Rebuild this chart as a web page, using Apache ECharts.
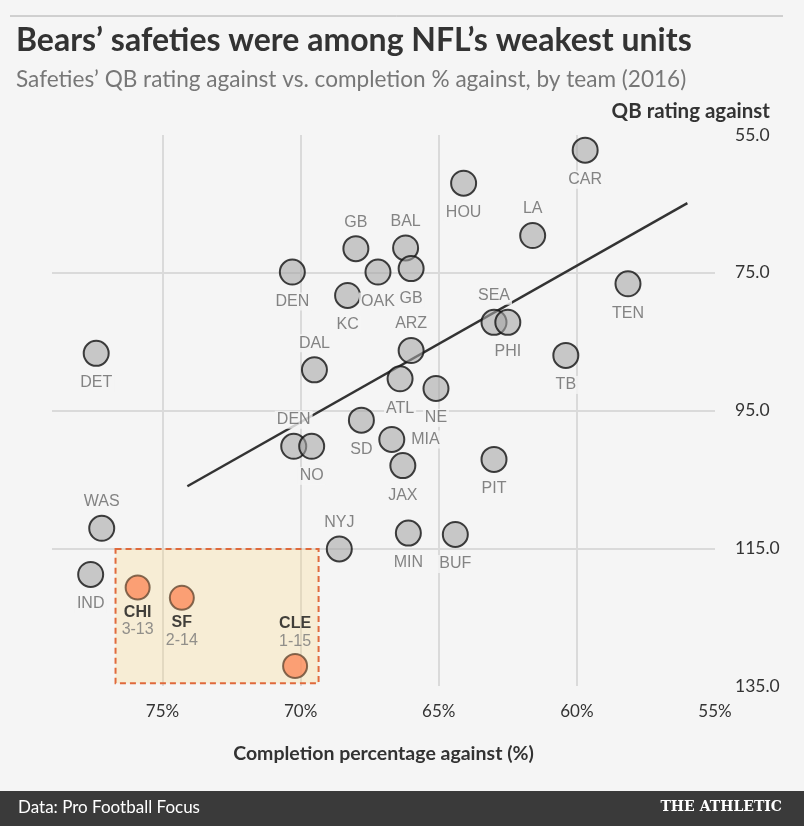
<!DOCTYPE html>
<html><head><meta charset="utf-8">
<script src="https://cdn.jsdelivr.net/npm/echarts@6/dist/echarts.min.js"></script>
<style>html,body{margin:0;padding:0;background:#f5f5f5}#c{width:804px;height:826px}</style>
</head><body><div id="c"></div>
<script>
// ---- data ----
const teams = ['CAR','HOU','LA','GB','BAL','GB','OAK','DEN','KC','ARZ','DAL','SEA','PHI','TEN','TB','DET','ATL','NE','DEN','NO','SD','MIA','JAX','PIT','NYJ','MIN','BUF','WAS','IND'];
const completionPct = [59.7,64.1,61.6,68.0,66.2,66.0,67.2,70.3,68.3,66.0,69.5,63.0,62.5,58.15,60.4,77.4,66.4,65.1,70.25,69.6,67.8,66.7,66.3,63.0,68.6,66.1,64.4,77.2,77.6];
const qbRating = [57.2,62.0,69.6,71.5,71.4,74.4,74.9,74.9,78.3,86.3,89.1,82.2,82.2,76.6,87.0,86.7,90.4,91.8,100.2,100.2,96.4,99.2,103.0,102.1,115.1,112.8,113.0,112.1,118.8];
const highlightTeams = ['CHI','SF','CLE'];
const highlightRecords = ['3-13','2-14','1-15'];
const highlightPct = [75.9,74.3,70.2];
const highlightRating = [120.7,122.2,132.1];
const trendPct = [74.1,56.0];
const trendRating = [106.0,64.9];
const boxPct = [76.7,69.35];
const boxRating = [115.1,134.6];
const xTickLabels = [75,70,65,60,55];
const yTickLabels = [55,75,95,115,135];

// ---- label placement (style) ----
const labelPlace = ['bottom','bottom','top','top','top','bottom','bottom','bottom','bottom','top','top','top','bottom','bottom','bottom','bottom','bottom','bottom','top','bottom','bottom','right','bottom','bottom','top','bottom','bottom','top','bottom'];
const hlPlace = ['bottom','bottom','top'];

const chart = echarts.init(document.getElementById('c'));
const labelFont = '"Liberation Sans", Arial, sans-serif';

const grayData = teams.map((t,i)=>({
  value:[completionPct[i], qbRating[i]], name:t,
  label:{position:labelPlace[i], distance: labelPlace[i]==='bottom'?7:4}
}));
const hlData = highlightTeams.map((t,i)=>({
  value:[highlightPct[i], highlightRating[i]], name:t,
  label:{position:hlPlace[i], distance:3, formatter:'{a|'+t+'}\n{b|'+highlightRecords[i]+'}'}
}));

chart.setOption({
  backgroundColor:'#f5f5f5',
  animation:false,
  grid:{left:52, right:89, top:135, bottom:140},
  title:[
    {text:'Bears\u2019 safeties were among NFL\u2019s weakest units', left:11, top:20,
     textStyle:{fontFamily:'Lato', fontWeight:'bold', fontSize:32, color:'#333'}},
    {text:'Safeties\u2019 QB rating against vs. completion % against, by team (2016)', left:11, top:63,
     textStyle:{fontFamily:'Lato', fontWeight:'normal', fontSize:22.6, color:'#777'}}
  ],
  graphic:[
    {type:'line', shape:{x1:10,y1:16,x2:783,y2:16}, style:{stroke:'#aaa', lineWidth:1}},
    {type:'text', right:34, top:101, style:{text:'QB rating against', font:'bold 20.5px Lato', fill:'#333'}},
    {type:'rect', shape:{x:0,y:791,width:804,height:35}, style:{fill:'#3a3a3a'}},
    {type:'text', left:18, top:799, style:{text:'Data: Pro Football Focus', font:'17px Lato', fill:'#fff'}},
    {type:'text', right:22, top:800, style:{text:'THE ATHLETIC', font:'bold 14px "DejaVu Serif", serif', fill:'#fff', letterSpacing:1}}
  ],
  xAxis:{
    type:'value', min:55, max:79, interval:5, inverse:true,
    name:'Completion percentage against (%)', nameLocation:'middle', nameGap:58,
    nameTextStyle:{fontFamily:'Lato', fontWeight:'bold', fontSize:19.5, color:'#333'},
    axisLine:{show:false}, axisTick:{show:false},
    axisLabel:{margin:17, fontFamily:'Lato', fontSize:17, color:'#333', showMinLabel:true,
      formatter:v=>xTickLabels.includes(v)? v+'%' : ''},
    splitLine:{show:true, showMinLine:false, showMaxLine:false, lineStyle:{color:'#dadada', width:2}}
  },
  yAxis:{
    type:'value', min:55, max:135, interval:20, inverse:true, position:'right',
    axisLine:{show:false}, axisTick:{show:false},
    axisLabel:{margin:20, align:'left', fontFamily:'Lato', fontSize:17.5, color:'#333',
      showMinLabel:true, showMaxLabel:true,
      formatter:v=>yTickLabels.includes(v)? v.toFixed(1) : ''},
    splitLine:{show:true, showMinLine:false, showMaxLine:false, lineStyle:{color:'#dadada', width:2}}
  },
  series:[
    {type:'line', data:trendPct.map((p,i)=>[p,trendRating[i]]), symbol:'none', silent:true,
     lineStyle:{color:'#333', width:2.5}, z:1,
     markArea:{silent:true, itemStyle:{color:'rgba(250,215,130,0.28)', borderColor:'#e06a3c', borderWidth:2, borderType:[6,4]},
       data:[[{coord:[boxPct[0],boxRating[0]]},{coord:[boxPct[1],boxRating[1]]}]]}},
    {type:'scatter', data:grayData, symbolSize:25, z:3,
     itemStyle:{color:'rgba(165,165,165,0.72)', borderColor:'#111', borderWidth:2},
     label:{show:true, formatter:'{b}', fontFamily:labelFont, fontSize:16, color:'#666',
       backgroundColor:'#f5f5f5', padding:[1,2]},
     emphasis:{disabled:true}},
    {type:'scatter', data:hlData, symbolSize:24, z:3,
     itemStyle:{color:'#fb8b5b', borderColor:'#654a33', borderWidth:2},
     label:{show:true, lineHeight:17, rich:{
       a:{fontFamily:labelFont, fontWeight:'bold', fontSize:16, color:'#111', lineHeight:18},
       b:{fontFamily:labelFont, fontSize:16, color:'#777', lineHeight:17}}},
     emphasis:{disabled:true}}
  ]
});
</script></body></html>
